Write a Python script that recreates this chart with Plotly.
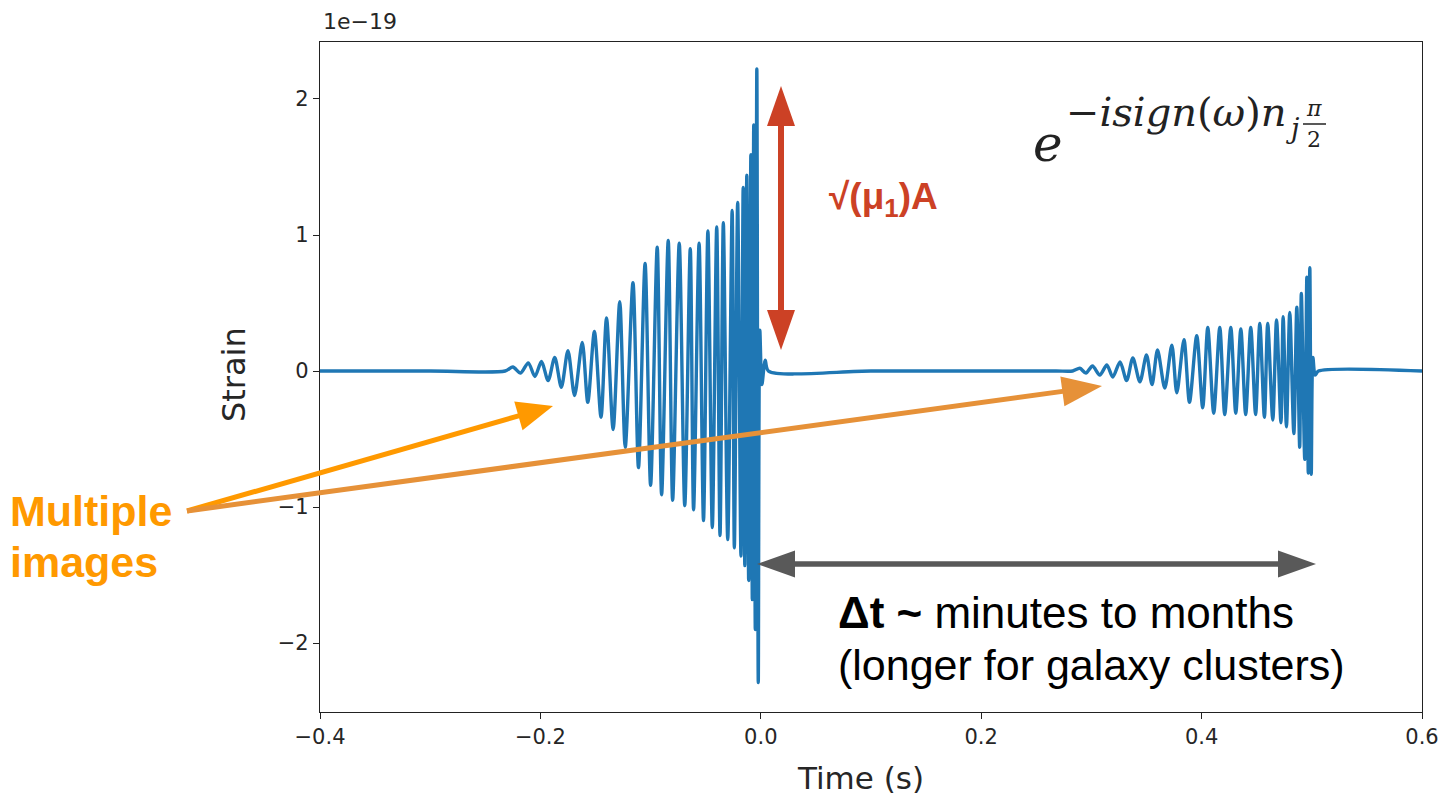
import plotly.graph_objects as go
import numpy as np

# ---------------- data ----------------
# extrema of the first (primary) image: time [s], strain [1e-19]
img1_t = [-0.400, -0.300, -0.232, -0.225, -0.218, -0.211, -0.205, -0.199, -0.193, -0.187, -0.181,
          -0.175, -0.169, -0.162, -0.157, -0.151, -0.145, -0.140, -0.134, -0.128, -0.123,
          -0.116, -0.111, -0.105, -0.100, -0.094, -0.090, -0.084, -0.080, -0.074, -0.069,
          -0.064, -0.061, -0.056, -0.052, -0.048, -0.044, -0.040, -0.037, -0.034, -0.030,
          -0.026, -0.024, -0.021, -0.018, -0.016, -0.0145, -0.0127, -0.011, -0.009, -0.0077,
          -0.0064, -0.005, -0.0036, -0.0023, -0.0009, 0.001, 0.004, 0.007, 0.100, 0.200, 0.268]
img1_h = [0.0, 0.0, 0.0, 0.03, -0.015, 0.06, -0.04, 0.07, -0.07, 0.10, -0.12,
          0.15, -0.18, 0.21, -0.23, 0.29, -0.34, 0.39, -0.43, 0.51, -0.56,
          0.65, -0.71, 0.79, -0.84, 0.91, -0.91, 0.96, -0.95, 0.94, -0.99,
          0.90, -1.02, 0.94, -1.10, 1.03, -1.15, 1.06, -1.21, 1.09, -1.24,
          1.18, -1.30, 1.24, -1.36, 1.35, -1.43, 1.44, -1.54, 1.59, -1.68,
          1.81, -1.90, 2.22, -2.29, 0.30, -0.10, 0.08, 0.0, 0.0, 0.0, 0.0]

# extrema of the second (lensed, delayed) image
img2_t = [0.268, 0.283, 0.2895, 0.295, 0.301, 0.3076, 0.314, 0.3194, 0.326, 0.332, 0.3376,
          0.344, 0.350, 0.355, 0.360, 0.3666, 0.373, 0.3775, 0.384, 0.389, 0.3956,
          0.401, 0.4056, 0.411, 0.4165, 0.421, 0.4265, 0.431, 0.4356, 0.440, 0.4446,
          0.449, 0.4528, 0.457, 0.460, 0.4646, 0.468, 0.472, 0.474, 0.477, 0.480,
          0.4837, 0.4864, 0.489, 0.4905, 0.4936, 0.4955, 0.4968, 0.4982, 0.4995, 0.501,
          0.503, 0.506, 0.600]
img2_h = [0.0, 0.0, 0.02, -0.015, 0.037, -0.03, 0.044, -0.044, 0.066, -0.07, 0.096,
          -0.08, 0.118, -0.10, 0.154, -0.125, 0.19, -0.16, 0.23, -0.23, 0.26,
          -0.27, 0.32, -0.31, 0.32, -0.32, 0.32, -0.31, 0.31, -0.32, 0.32,
          -0.32, 0.35, -0.34, 0.35, -0.36, 0.375, -0.38, 0.40, -0.41, 0.43,
          -0.46, 0.47, -0.56, 0.57, -0.65, 0.69, -0.75, 0.76, -0.76, 0.10,
          -0.03, 0.0, 0.0]

x_ticks = [-0.4, -0.2, 0.0, 0.2, 0.4, 0.6]
x_ticklabels = ["\u22120.4", "\u22120.2", "0.0", "0.2", "0.4", "0.6"]
y_ticks = [-2, -1, 0, 1, 2]
y_ticklabels = ["\u22122", "\u22121", "0", "1", "2"]

# ---------------- layout geometry ----------------
W, H = 1443, 802
L, R, T, B = 320, 1422, 42, 712


def px(x, y):
    return (x - L) / (R - L), (B - y) / (B - T)


t_all = img1_t + img2_t[1:]
h_all = img1_h + img2_h[1:]

fig = go.Figure()
fig.add_trace(go.Scatter(x=t_all, y=h_all, mode="lines",
                         line=dict(color="#1f77b4", width=3.4, shape="spline", smoothing=0.8),
                         hoverinfo="skip", showlegend=False))

shapes = []
annotations = []


def arrow(x0, y0, x1, y1, color, width=5.5, head_len=38, head_w=28, both=False):
    d = np.array([x1 - x0, y1 - y0], dtype=float)
    n = np.linalg.norm(d)
    u = d / n
    nv = np.array([-u[1], u[0]])

    def head(tip, direction):
        base = tip - direction * head_len
        c1 = base + nv * head_w / 2
        c2 = base - nv * head_w / 2
        ps = [px(*p) for p in (tip, c1, c2)]
        path = "M {} {} L {} {} L {} {} Z".format(ps[0][0], ps[0][1], ps[1][0], ps[1][1], ps[2][0], ps[2][1])
        shapes.append(dict(type="path", xref="paper", yref="paper", path=path,
                           fillcolor=color, line=dict(color=color, width=0)))
        return base

    p0 = np.array([x0, y0], dtype=float)
    p1 = np.array([x1, y1], dtype=float)
    s1 = head(p1, u) + u * 2
    s0 = p0
    if both:
        s0 = head(p0, -u) - u * 2
    a = px(*s0)
    b = px(*s1)
    shapes.append(dict(type="line", xref="paper", yref="paper", x0=a[0], y0=a[1], x1=b[0], y1=b[1],
                       line=dict(color=color, width=width)))


# red amplitude arrow
arrow(781, 86, 781, 350, "#cc4125", width=6, head_len=40, head_w=28, both=True)
# grey time-delay arrow
arrow(757, 564, 1316, 564, "#595959", width=5.5, head_len=38, head_w=27, both=True)
# orange arrows
arrow(187, 511, 553, 406, "#ff9900", width=5, head_len=36, head_w=30)
arrow(187, 511, 1102, 386, "#e69138", width=5, head_len=40, head_w=30)


def text(x, y, s, size, color="#000000", family="Liberation Sans, Arial, sans-serif",
         xanchor="left", yanchor="middle", angle=0):
    xp, yp = px(x, y)
    annotations.append(dict(x=xp, y=yp, xref="paper", yref="paper", text=s, showarrow=False,
                            xanchor=xanchor, yanchor=yanchor, textangle=angle,
                            font=dict(size=size, color=color, family=family)))


SANS = "Liberation Sans, Arial, sans-serif"
DJ = "DejaVu Sans, sans-serif"
SERIF = "DejaVu Serif, Liberation Serif, serif"

text(8, 511, "<b>Multiple</b>", 43, "#ff9900", SANS)
text(8, 562, "<b>images</b>", 43, "#ff9900", SANS)
text(827, 199, "<b>\u221a(\u03bc<sub>1</sub>)A</b>", 37, "#cc4125", SANS)
text(836, 612, "<b>\u0394t ~</b> minutes to months", 44, "#000000", SANS)
text(836, 665, "(longer for galaxy clusters)", 43, "#000000", SANS)

# formula e^{-i sign(w) n_j pi/2}
text(1031, 144, "<i>e</i>", 50, "#222222", SERIF)
text(1064, 112, "\u2212<i>isign</i>(<i>\u03c9</i>)<i>n</i>", 40, "#222222", SERIF)
text(1284, 128, "<i>j</i>", 27, "#222222", SERIF)
text(1314, 108, "<i>\u03c0</i>", 22, "#222222", SERIF, xanchor="center")
text(1314, 140, "2", 22, "#222222", SERIF, xanchor="center")
a0 = px(1303, 124)
a1 = px(1326, 124)
shapes.append(dict(type="line", xref="paper", yref="paper", x0=a0[0], y0=a0[1], x1=a1[0], y1=a1[1],
                   line=dict(color="#222222", width=1.5)))

# axis offset label and titles
text(321, 22, "1e\u221219", 22, "#262626", DJ)
text(860, 778, "Time (s)", 31, "#262626", DJ, xanchor="center")
text(234, 375, "Strain", 32, "#262626", DJ, xanchor="center", angle=-90)

fig.update_layout(
    width=W, height=H, autosize=False,
    margin=dict(l=L, r=W - R, t=T, b=H - B, pad=0, autoexpand=False),
    paper_bgcolor="white", plot_bgcolor="white",
    showlegend=False,
    shapes=shapes, annotations=annotations,
    xaxis=dict(range=[-0.4, 0.6], tickvals=x_ticks, ticktext=x_ticklabels, automargin=False,
               ticks="outside", ticklen=6, tickwidth=1.3, tickcolor="#222",
               showline=True, linecolor="#222", linewidth=1.4, mirror=True,
               showgrid=False, zeroline=False,
               tickfont=dict(family=DJ, size=21, color="#262626")),
    yaxis=dict(range=[-2.507, 2.419], tickvals=y_ticks, ticktext=y_ticklabels, automargin=False,
               ticks="outside", ticklen=6, tickwidth=1.3, tickcolor="#222",
               showline=True, linecolor="#222", linewidth=1.4, mirror=True,
               showgrid=False, zeroline=False,
               tickfont=dict(family=DJ, size=21, color="#262626")),
)

fig.write_html("out.html")
